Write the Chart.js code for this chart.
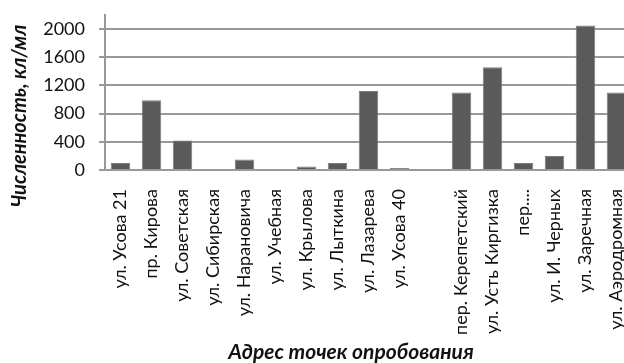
<!DOCTYPE html>
<html>
<head>
<meta charset="utf-8">
<script src="https://cdn.jsdelivr.net/npm/chart.js@4/dist/chart.umd.min.js"></script>
<style>
  html, body { margin: 0; padding: 0; background: #fff; overflow: hidden; }
  #wrap { width: 624px; height: 363px; overflow: hidden; }
</style>
</head>
<body>
<div id="wrap"><canvas id="chart" width="640" height="363"></canvas></div>
<script>
const categories = [
  'ул. Усова 21', 'пр. Кирова', 'ул. Советская', 'ул. Сибирская',
  'ул. Нарановича', 'ул. Учебная', 'ул. Крылова', 'ул. Лыткина',
  'ул. Лазарева', 'ул. Усова 40', '', 'пер. Керепетский',
  'ул. Усть Киргизка', 'пер....', 'ул. И. Черных', 'ул. Заречная',
  'ул. Аэродромная'
];
const counts = [100, 990, 420, 0, 150, 0, 50, 100, 1120, 30, null, 1100, 1460, 100, 200, 2050, 1100];
const yTicks = [0, 400, 800, 1200, 1600, 2000];

const yTitle = 'Численность, кл/мл';
const xTitle = 'Адрес точек опробования';

const titlesPlugin = {
  id: 'titles',
  afterDraw(chart) {
    const ctx = chart.ctx;
    ctx.save();
    ctx.fillStyle = '#111';
    ctx.textAlign = 'center';
    ctx.textBaseline = 'middle';
    ctx.font = 'italic bold 20px Lato';
    ctx.translate(20, 116);
    ctx.rotate(-Math.PI / 2);
    ctx.fillText(yTitle, 0, 0);
    ctx.restore();

    ctx.save();
    ctx.fillStyle = '#111';
    ctx.textAlign = 'center';
    ctx.textBaseline = 'middle';
    ctx.font = 'italic bold 21px Lato';
    ctx.fillText(xTitle, 351, 352);
    ctx.restore();
  }
};

new Chart(document.getElementById('chart').getContext('2d'), {
  type: 'bar',
  data: {
    labels: categories,
    datasets: [{
      data: counts,
      backgroundColor: '#5a5a5a',
      borderColor: '#7a7a7a',
      borderWidth: 1,
      categoryPercentage: 1,
      barPercentage: 0.63
    }]
  },
  options: {
    responsive: false,
    animation: false,
    layout: { padding: { top: 15, right: 8, left: 0, bottom: 0 } },
    plugins: { legend: { display: false }, tooltip: { enabled: false } },
    scales: {
      x: {
        grid: { display: false },
        border: { display: true, color: '#999', width: 2 },
        ticks: {
          minRotation: 90, maxRotation: 90, autoSkip: false,
          padding: 11, color: '#111',
          font: { family: 'Lato', size: 18 }
        },
        afterFit(scale) {
          scale.height = 193;
          scale.paddingLeft = 0;
          scale.paddingRight = 0;
        }
      },
      y: {
        min: 0, max: 2200,
        grid: { color: '#999', lineWidth: 2, tickLength: 6 },
        border: { display: true, color: '#999', width: 2 },
        ticks: {
          stepSize: 400, padding: 14, color: '#111',
          font: { family: 'Lato', size: 18 },
          callback: v => String(v)
        },
        afterBuildTicks(scale) {
          scale.ticks = yTicks.map(v => ({ value: v }));
        },
        afterFit(scale) {
          scale.width = 105;
          scale.paddingTop = 0;
          scale.paddingBottom = 0;
        }
      }
    }
  },
  plugins: [titlesPlugin]
});
</script>
</body>
</html>
